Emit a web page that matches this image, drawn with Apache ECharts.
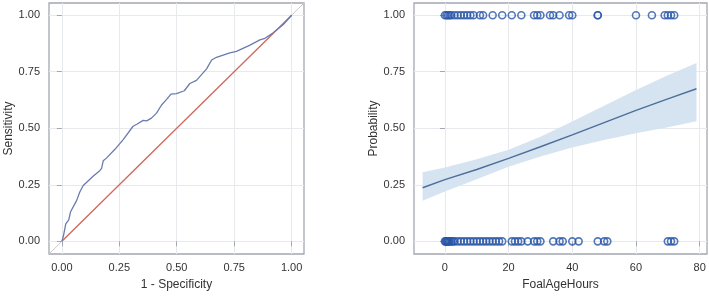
<!DOCTYPE html>
<html><head><meta charset="utf-8">
<script src="https://cdn.jsdelivr.net/npm/echarts@6/dist/echarts.min.js"></script>
<style>html,body{margin:0;padding:0;background:#fff}#c{width:709px;height:296px}</style>
</head><body><div id="c"></div>
<script>
// ROC curve (1 - Specificity, Sensitivity)
const rocX = [0,0.006,0.017,0.03,0.036,0.038,0.046,0.064,0.078,0.093,0.107,0.136,0.165,0.173,0.18,0.194,0.231,0.267,0.31,0.328,0.354,0.369,0.39,0.412,0.434,0.456,0.475,0.499,0.533,0.557,0.586,0.608,0.63,0.652,0.673,0.731,0.76,0.819,0.862,0.884,0.92,0.964,1];
const rocY = [0,0.02,0.077,0.095,0.098,0.131,0.138,0.18,0.218,0.247,0.26,0.288,0.3125,0.323,0.356,0.368,0.407,0.45,0.509,0.519,0.535,0.533,0.545,0.567,0.603,0.628,0.651,0.653,0.666,0.698,0.712,0.737,0.763,0.802,0.814,0.833,0.84,0.868,0.891,0.898,0.922,0.959,1];
const refLine = [0,1];
const rocTicks = [0,0.25,0.5,0.75,1];

// Logistic fit: FoalAgeHours vs Probability
const fitX = [-7,0,10,20,30,40,50,60,70,79];
const fitY = [0.237,0.273,0.318,0.367,0.418,0.471,0.525,0.579,0.63,0.675];
const fitLo = [0.18,0.22,0.275,0.33,0.375,0.415,0.448,0.478,0.505,0.531];
const fitHi = [0.305,0.327,0.363,0.405,0.463,0.53,0.6,0.669,0.735,0.789];
const obs1X = [0,0.5,1,1.5,2,3,4,5,6,7,8,9,11,12,15,18,21,24,28,29,30,33,34,36,39,40,48,48,60,65,69,70,71,72];
const obs0X = [0,0.25,0.5,0.75,1,1.25,1.5,2,2.5,3,4,5,6,7,8,9,10,11,12,13,14,15,16,17,18,21,22,23,24,26,28,29,30,34,36,37,40,42,48,50,51,70,71,72];
const hourTicks = [0,20,40,60,80];
const probTicks = [0,0.25,0.5,0.75,1];

const fmt2 = v => v.toFixed(2);
const font = 'Liberation Sans, Arial, sans-serif';
const frame = '#a3a8b0';
const gridC = '#e8e9ed';

function axis(o){
  return Object.assign({
    type:'value', nameLocation:'middle',
    nameTextStyle:{fontFamily:font,fontSize:12,color:'#333'},
    axisLine:{show:false},
    axisTick:{show:true,length:5,lineStyle:{color:frame},customValues:o.ticks},
    axisLabel:{fontFamily:font,fontSize:11,color:'#333',margin:o.margin,customValues:o.ticks,formatter:o.fmt||(v=>String(v))},
    splitLine:{show:false}
  }, o.extra);
}
function gridSeries(xi, xt, yt){
  return {type:'line',xAxisIndex:xi,yAxisIndex:xi,data:[],z:0,silent:true,
    markLine:{z:0,silent:true,symbol:'none',label:{show:false},lineStyle:{color:gridC,width:1,type:'solid'},
      data: xt.map(v=>({xAxis:v})).concat(yt.map(v=>({yAxis:v})))}};
}

const chart = echarts.init(document.getElementById('c'),null,{renderer:'canvas'});
chart.setOption({
  animation:false,
  grid:[
    {left:49,top:3,width:255,height:255,show:true,borderColor:frame,borderWidth:1.3,backgroundColor:'transparent'},
    {left:414,top:3,width:293,height:255,show:true,borderColor:frame,borderWidth:1.3,backgroundColor:'transparent'}
  ],
  xAxis:[
    axis({ticks:rocTicks,fmt:fmt2,margin:8,extra:{gridIndex:0,min:-0.056,max:1.054,name:'1 - Specificity',nameGap:25}}),
    axis({ticks:hourTicks,margin:8,extra:{gridIndex:1,min:-9.7,max:82.3,name:'FoalAgeHours',nameGap:25}})
  ],
  yAxis:[
    axis({ticks:rocTicks,fmt:fmt2,margin:9,extra:{gridIndex:0,min:-0.056,max:1.054,name:'Sensitivity',nameGap:33}}),
    axis({ticks:probTicks,fmt:fmt2,margin:9,extra:{gridIndex:1,min:-0.056,max:1.054,name:'Probability',nameGap:33}})
  ],
  series:[
    gridSeries(0, rocTicks, rocTicks),
    gridSeries(1, hourTicks, probTicks),
    {type:'line',xAxisIndex:0,yAxisIndex:0,data:[[-0.056,-0.056],[1.054,1.054]],symbol:'none',lineStyle:{color:'#c9c9c9',width:1},z:1,silent:true},
    {type:'line',xAxisIndex:0,yAxisIndex:0,data:refLine.map(v=>[v,v]),symbol:'none',lineStyle:{color:'#d26a5c',width:1.3},z:2},
    {type:'line',xAxisIndex:0,yAxisIndex:0,data:rocX.map((x,i)=>[x,rocY[i]]),symbol:'none',lineStyle:{color:'#6a7bb0',width:1.3},z:3},
    {type:'custom',xAxisIndex:1,yAxisIndex:1,z:1,silent:true,
      data:fitX.map((x,i)=>[x,fitLo[i],fitHi[i]]),
      renderItem:function(params,api){
        if(params.dataIndex!==0) return null;
        const pts=[];
        for(let i=0;i<fitX.length;i++) pts.push(api.coord([fitX[i],fitHi[i]]));
        for(let i=fitX.length-1;i>=0;i--) pts.push(api.coord([fitX[i],fitLo[i]]));
        return {type:'polygon',shape:{points:pts},style:{fill:'#d6e4f2'}};
      },
      encode:{x:0,y:[1,2]}},
    {type:'line',xAxisIndex:1,yAxisIndex:1,data:fitX.map((x,i)=>[x,fitY[i]]),symbol:'none',lineStyle:{color:'#4d6f9a',width:1.5},z:3},
    {type:'scatter',xAxisIndex:1,yAxisIndex:1,data:obs1X.map(x=>[x,1]),symbol:'circle',symbolSize:7,itemStyle:{color:'rgba(255,255,255,0)',borderColor:'#2856a8',borderWidth:1.6},z:4},
    {type:'scatter',xAxisIndex:1,yAxisIndex:1,data:obs0X.map(x=>[x,0]),symbol:'circle',symbolSize:7,itemStyle:{color:'rgba(255,255,255,0)',borderColor:'#2856a8',borderWidth:1.6},z:4}
  ]
});
</script></body></html>
